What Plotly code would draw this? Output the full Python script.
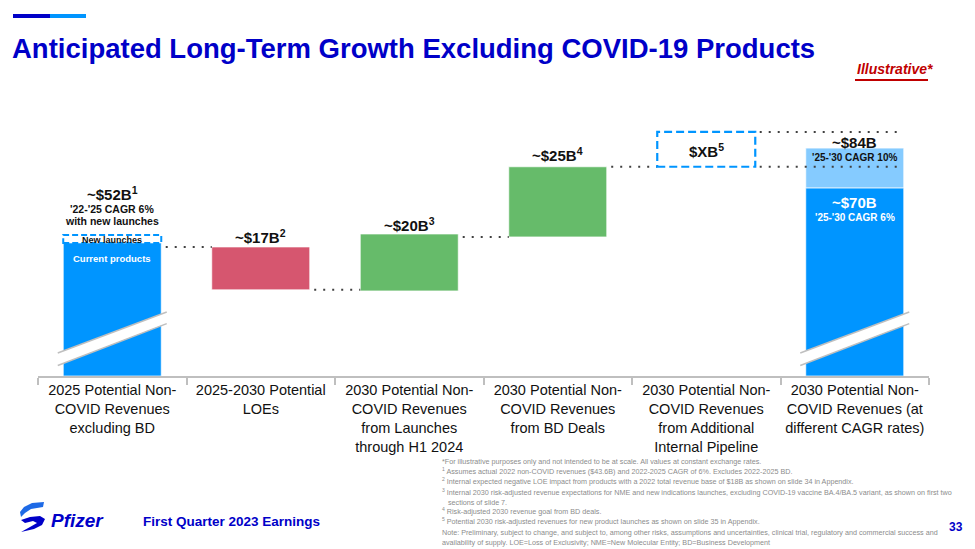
import plotly.graph_objects as go

# ---------------- data ----------------
categories = [
    "2025 Potential Non-<br>COVID Revenues<br>excluding BD",
    "2025-2030 Potential<br>LOEs",
    "2030 Potential Non-<br>COVID Revenues<br>from Launches<br>through H1 2024",
    "2030 Potential Non-<br>COVID Revenues<br>from BD Deals",
    "2030 Potential Non-<br>COVID Revenues<br>from Additional<br>Internal Pipeline",
    "2030 Potential Non-<br>COVID Revenues (at<br>different CAGR rates)",
]
# illustrative (not to scale) visual levels
current_products_top = 49.3
new_launches_top = 52.2
loe_top = 47.8
loe_bottom = 31.9
launch_base = 31.5
launch_top = 52.6
bd_base = 51.5
bd_top = 77.5
pipeline_base = 77.5
pipeline_top = 90.4
cagr6_top = 69.6
cagr10_top = 84.4

value_labels = ["~$52B<sup>1</sup>", "~$17B<sup>2</sup>", "~$20B<sup>3</sup>",
                "~$25B<sup>4</sup>", "$XB<sup>5</sup>", "~$84B"]

footnotes = [
    "*For illustrative purposes only and not intended to be at scale. All values at constant exchange rates.",
    "<sup>1</sup> Assumes actual 2022 non-COVID revenues ($43.6B) and 2022-2025 CAGR of 6%. Excludes 2022-2025 BD.",
    "<sup>2</sup> Internal expected negative LOE impact from products with a 2022 total revenue base of $18B as shown on slide 34 in Appendix.",
    "<sup>3</sup> Internal 2030 risk-adjusted revenue expectations for NME and new indications launches, excluding COVID-19 vaccine BA.4/BA.5 variant, as shown on first two",
    "   sections of slide 7.",
    "<sup>4</sup> Risk-adjusted 2030 revenue goal from BD deals.",
    "<sup>5</sup> Potential 2030 risk-adjusted revenues for new product launches as shown on slide 35 in Appendix.",
    "Note: Preliminary, subject to change, and subject to, among other risks, assumptions and uncertainties, clinical trial, regulatory and commercial success and",
    "availability of supply. LOE=Loss of Exclusivity; NME=New Molecular Entity; BD=Business Development",
]

# ---------------- style ----------------
W, H = 975, 549
L, R, T, B = 38, 929, 100, 376
PXU = 2.7  # px per unit
FONT = "Liberation Sans, Arial, sans-serif"
BLUE = "#0095FF"
LIGHT = "#85CBFF"
PINK = "#D6566F"
GREEN = "#66BB6A"
NAVY = "#0000C8"
GRAY = "#BFBFBF"
DOT = "#404040"
BW = 0.66
hw = BW / 2


def px_x(px):
    return (px - L) / (R - L)


def px_y(py):
    return (B - py) / (B - T)


fig = go.Figure()

bar_kw = dict(width=BW, marker_line=dict(color="rgba(255,255,255,0.7)", width=1),
              hoverinfo="skip", showlegend=False)
fig.add_trace(go.Bar(x=[0], y=[current_products_top], base=[0], marker_color=BLUE, **bar_kw))
fig.add_trace(go.Bar(x=[1], y=[loe_top - loe_bottom], base=[loe_bottom], marker_color=PINK, **bar_kw))
fig.add_trace(go.Bar(x=[2, 3], y=[launch_top - launch_base, bd_top - bd_base],
                     base=[launch_base, bd_base], marker_color=GREEN, **bar_kw))
fig.add_trace(go.Bar(x=[5], y=[cagr10_top - cagr6_top], base=[cagr6_top], marker_color=LIGHT, **bar_kw))
fig.add_trace(go.Bar(x=[5], y=[cagr6_top], base=[0], marker_color=BLUE, **bar_kw))

# dotted connectors
connectors = [
    (0 + hw, 1 - hw, loe_top),
    (1 + hw, 2 - hw, loe_bottom),
    (2 + hw, 3 - hw, bd_base),
    (3 + hw, 4 - hw, bd_top),
    (4 + hw, 5 + hw - 0.04, pipeline_base),
    (4 + hw, 5 + hw - 0.04, pipeline_top),
]
for x0, x1, yv in connectors:
    fig.add_trace(go.Scatter(x=[x0 + 0.03, x1], y=[yv, yv], mode="lines",
                             line=dict(color=DOT, width=2, dash="2px,7px"),
                             hoverinfo="skip", showlegend=False))

shapes = []
# new launches dashed box
shapes.append(dict(type="rect", xref="x", yref="y", x0=0 - hw, x1=0 + hw,
                   y0=current_products_top, y1=new_launches_top,
                   fillcolor="white", line=dict(color=BLUE, width=2, dash="6px,3px"), layer="above"))
# $XB dashed box
shapes.append(dict(type="rect", xref="x", yref="y", x0=4 - hw, x1=4 + hw,
                   y0=pipeline_base, y1=pipeline_top,
                   fillcolor="rgba(0,0,0,0)", line=dict(color=BLUE, width=2.2, dash="8px,4px"), layer="above"))

# axis break marks on first and last bars
for c in (0, 5):
    xa, xb = c - 0.367, c + 0.367
    ua, ub = 8.5, 23.7
    la, lb = 3.9, 19.4
    shapes.append(dict(type="path", xref="x", yref="y",
                       path=f"M{xa},{ua} L{xb},{ub} L{xb},{lb} L{xa},{la} Z",
                       fillcolor="white", line=dict(width=0), layer="above"))
    shapes.append(dict(type="line", xref="x", yref="y", x0=xa, y0=ua, x1=xb, y1=ub,
                       line=dict(color=GRAY, width=1.5), layer="above"))
    shapes.append(dict(type="line", xref="x", yref="y", x0=xa, y0=la, x1=xb, y1=lb,
                       line=dict(color=GRAY, width=1.5), layer="above"))

# top-left decoration bar
shapes.append(dict(type="rect", xref="paper", yref="paper", x0=px_x(13), x1=px_x(50),
                   y0=px_y(18), y1=px_y(14), fillcolor=NAVY, line=dict(width=0)))
shapes.append(dict(type="rect", xref="paper", yref="paper", x0=px_x(50), x1=px_x(86),
                   y0=px_y(18), y1=px_y(14), fillcolor=BLUE, line=dict(width=0)))
# Illustrative underline
shapes.append(dict(type="line", xref="paper", yref="paper", x0=px_x(855), x1=px_x(928),
                   y0=px_y(80), y1=px_y(80), line=dict(color="#C00000", width=2)))


# Pfizer logo swirl (approx.)
def poly(pts):
    return "M" + " L".join(f"{px_x(a)},{px_y(b)}" for a, b in pts) + " Z"


shapes.append(dict(type="path", xref="paper", yref="paper",
                   path=poly([(44, 502), (32, 503), (24, 507), (20, 512), (21, 517), (25, 513),
                              (31, 509), (43, 507)]),
                   fillcolor="#1E6AE6", line=dict(width=0)))
shapes.append(dict(type="path", xref="paper", yref="paper",
                   path=poly([(21, 520), (30, 517), (40, 516), (45, 519), (42, 525), (34, 529),
                              (21, 532), (30, 527), (37, 523), (33, 521), (25, 523)]),
                   fillcolor=NAVY, line=dict(width=0)))

ann = []


def txt(text, x, y, size, color="#111111", xanchor="center", xref="paper", family=FONT, **kw):
    ann.append(dict(text=text, x=x, y=px_y(y), xref=xref, yref="paper", xanchor=xanchor,
                    yanchor="middle", showarrow=False, font=dict(family=family, size=size, color=color), **kw))


# bar labels
label_y = [193, 236, 224, 154, 150, 142]
for i, (lab, yy) in enumerate(zip(value_labels, label_y)):
    txt(f"<b>{lab}</b>", i, yy, 15, xref="x")
txt("<b>'22-'25 CAGR 6%</b>", 0, 209, 10.5, xref="x")
txt("<b>with new launches</b>", 0, 221, 10.5, xref="x")
txt("<b>New launches</b>", 0, 240, 9, xref="x")
txt("<b>Current products</b>", 0, 258, 9.5, color="white", xref="x")
txt("<b>'25-'30 CAGR 10%</b>", 5, 157, 10, xref="x")
txt("<b>~$70B</b>", 5, 202, 15, color="white", xref="x")
txt("<b>'25-'30 CAGR 6%</b>", 5, 217, 10, color="white", xref="x")

# title etc.
txt("<b>Anticipated Long-Term Growth Excluding COVID-19 Products</b>", px_x(10), 48, 27.5, color=NAVY, xanchor="left")
txt("<b><i>Illustrative*</i></b>", px_x(855), 69, 14, color="#C00000", xanchor="left")
txt("<b>First Quarter 2023 Earnings</b>", px_x(141), 521, 13.5, color=NAVY, xanchor="left")
txt("<b>33</b>", px_x(956), 527, 12, color=NAVY)
txt("<b><i>Pfizer</i></b>", px_x(49), 520, 19, color=NAVY, xanchor="left")

foot_y = [461, 471, 481, 492, 502, 511, 521, 532, 542]
for line, yy in zip(footnotes, foot_y):
    txt(line, px_x(440), yy, 7.2, color="#8C8C8C", xanchor="left")

fig.update_layout(
    width=W, height=H,
    margin=dict(l=L, r=W - R, t=T, b=H - B, pad=0),
    paper_bgcolor="white", plot_bgcolor="white",
    barmode="overlay",
    shapes=shapes, annotations=ann,
    xaxis=dict(range=[-0.5, 5.5], tickmode="array", tickvals=list(range(6)), ticktext=categories,
               ticks="", showline=True, linecolor=GRAY, linewidth=1.5, showgrid=False, zeroline=False,
               tickfont=dict(family=FONT, size=14.5, color="#111111"),
               minor=dict(tickmode="array", tickvals=[i - 0.5 for i in range(7)], ticks="outside",
                          ticklen=7, tickcolor=GRAY, tickwidth=1.5, showgrid=False),
               fixedrange=True),
    yaxis=dict(range=[0, (B - T) / PXU], visible=False, fixedrange=True),
)

fig.write_html("out.html", config={"displayModeBar": False},
               post_script="document.body.style.margin='0';document.body.style.overflow='hidden';")
